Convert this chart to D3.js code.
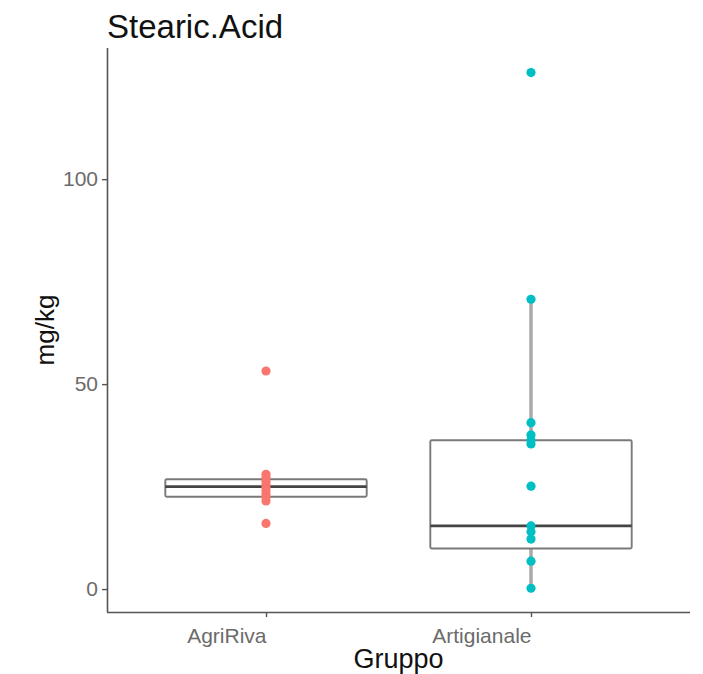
<!DOCTYPE html>
<html>
<head>
<meta charset="utf-8">
<script src="https://cdn.jsdelivr.net/npm/d3@7"></script>
<style>
  body { margin: 0; background: #fff; }
  text { font-family: "Liberation Sans", Arial, sans-serif; }
</style>
</head>
<body>
<div class="canvas"></div>
<script>
// data
var groups = ['AgriRiva', 'Artigianale'];
var colors = ['#F8766D', '#00BFC4'];
var pointsAgriRiva = [53.2, 28.0, 27.2, 26.3, 25.5, 24.8, 24.0, 23.2, 22.4, 21.5, 16.0];
var pointsArtigianale = [126, 70.7, 40.6, 37.6, 36.3, 35.4, 25.1, 15.4, 14.0, 12.2, 6.8, 0.2];
var boxQ1 = [22.5, 9.9];
var boxMedian = [25.0, 15.4];
var boxQ3 = [26.8, 36.3];
var whiskerLow = [21.5, 0.2];
var whiskerHigh = [28.0, 70.7];
var yTicks = [0, 50, 100];

var width = 703, height = 674;
var padL = 107, padR = 690, padT = 48, padB = 612;

var svg = d3.select('.canvas').append('svg')
  .attr('width', width).attr('height', height);

// scales
var x = d3.scalePoint().domain(groups).range([padL, padR]).padding(0.6);
var boxW = x.step() * 0.76;
var y = d3.scaleLinear().domain([-5.6, 132]).range([padB, padT]);

// build box table
var boxes = groups.map(function (g, i) {
  return { g: g, q1: boxQ1[i], med: boxMedian[i], q3: boxQ3[i], lo: whiskerLow[i], hi: whiskerHigh[i] };
});
var pts = [];
pointsAgriRiva.forEach(function (v) { pts.push({ g: groups[0], v: v, c: colors[0] }); });
pointsArtigianale.forEach(function (v) { pts.push({ g: groups[1], v: v, c: colors[1] }); });

var grp = svg.append('g');

// whiskers
grp.selectAll('line.whisk-hi').data(boxes).enter().append('line')
  .attr('x1', d => x(d.g)).attr('x2', d => x(d.g))
  .attr('y1', d => y(d.q3)).attr('y2', d => y(d.hi))
  .attr('stroke', '#aaaaaa').attr('stroke-width', 3.5);
grp.selectAll('line.whisk-lo').data(boxes).enter().append('line')
  .attr('x1', d => x(d.g)).attr('x2', d => x(d.g))
  .attr('y1', d => y(d.q1)).attr('y2', d => y(d.lo))
  .attr('stroke', '#aaaaaa').attr('stroke-width', 3.5);

// boxes
grp.selectAll('rect.box').data(boxes).enter().append('rect')
  .attr('x', d => x(d.g) - boxW / 2)
  .attr('y', d => y(d.q3))
  .attr('width', boxW)
  .attr('height', d => y(d.q1) - y(d.q3))
  .attr('fill', 'none')
  .attr('stroke', '#7a7a7a').attr('stroke-width', 1.9)
  .attr('rx', 1.5);

// medians
grp.selectAll('line.median').data(boxes).enter().append('line')
  .attr('x1', d => x(d.g) - boxW / 2).attr('x2', d => x(d.g) + boxW / 2)
  .attr('y1', d => y(d.med)).attr('y2', d => y(d.med))
  .attr('stroke', '#444').attr('stroke-width', 2.6);

// points
grp.selectAll('circle').data(pts).enter().append('circle')
  .attr('cx', d => x(d.g)).attr('cy', d => y(d.v))
  .attr('r', 4.6)
  .attr('fill', d => d.c);

// axes
var yAxis = svg.append('g').attr('transform', 'translate(' + padL + ',0)')
  .call(d3.axisLeft(y).tickValues(yTicks).tickSize(5).tickPadding(4));
var xAxis = svg.append('g').attr('transform', 'translate(0,' + padB + ')')
  .call(d3.axisBottom(x).tickSize(5).tickPadding(6));

[yAxis, xAxis].forEach(function (a) {
  a.select('.domain').attr('stroke', '#555').attr('stroke-width', 1.6);
  a.selectAll('.tick line').attr('stroke', '#555').attr('stroke-width', 1.4);
  a.selectAll('.tick text').attr('fill', '#6b6b6b').style('font-size', '21px')
    .style('font-family', '"Liberation Sans", Arial, sans-serif');
});
yAxis.select('.domain').attr('d', 'M0.5,' + padB + 'V' + padT);
xAxis.select('.domain').attr('d', 'M' + padL + ',0.5H' + padR);
// x tick labels sit right-aligned at the tick
xAxis.selectAll('.tick text').attr('text-anchor', 'end').attr('x', 0).attr('dy', '0.95em');

// titles
svg.append('text').attr('x', padL).attr('y', 38)
  .style('font-size', '33px').attr('fill', '#111').text('Stearic.Acid');
svg.append('text').attr('x', (padL + padR) / 2).attr('y', 668)
  .attr('text-anchor', 'middle').style('font-size', '27px').attr('fill', '#111').text('Gruppo');
svg.append('text').attr('transform', 'translate(54,' + (padT + padB) / 2 + ') rotate(-90)')
  .attr('text-anchor', 'middle').style('font-size', '26px').attr('fill', '#111').text('mg/kg');
</script>
</body>
</html>
